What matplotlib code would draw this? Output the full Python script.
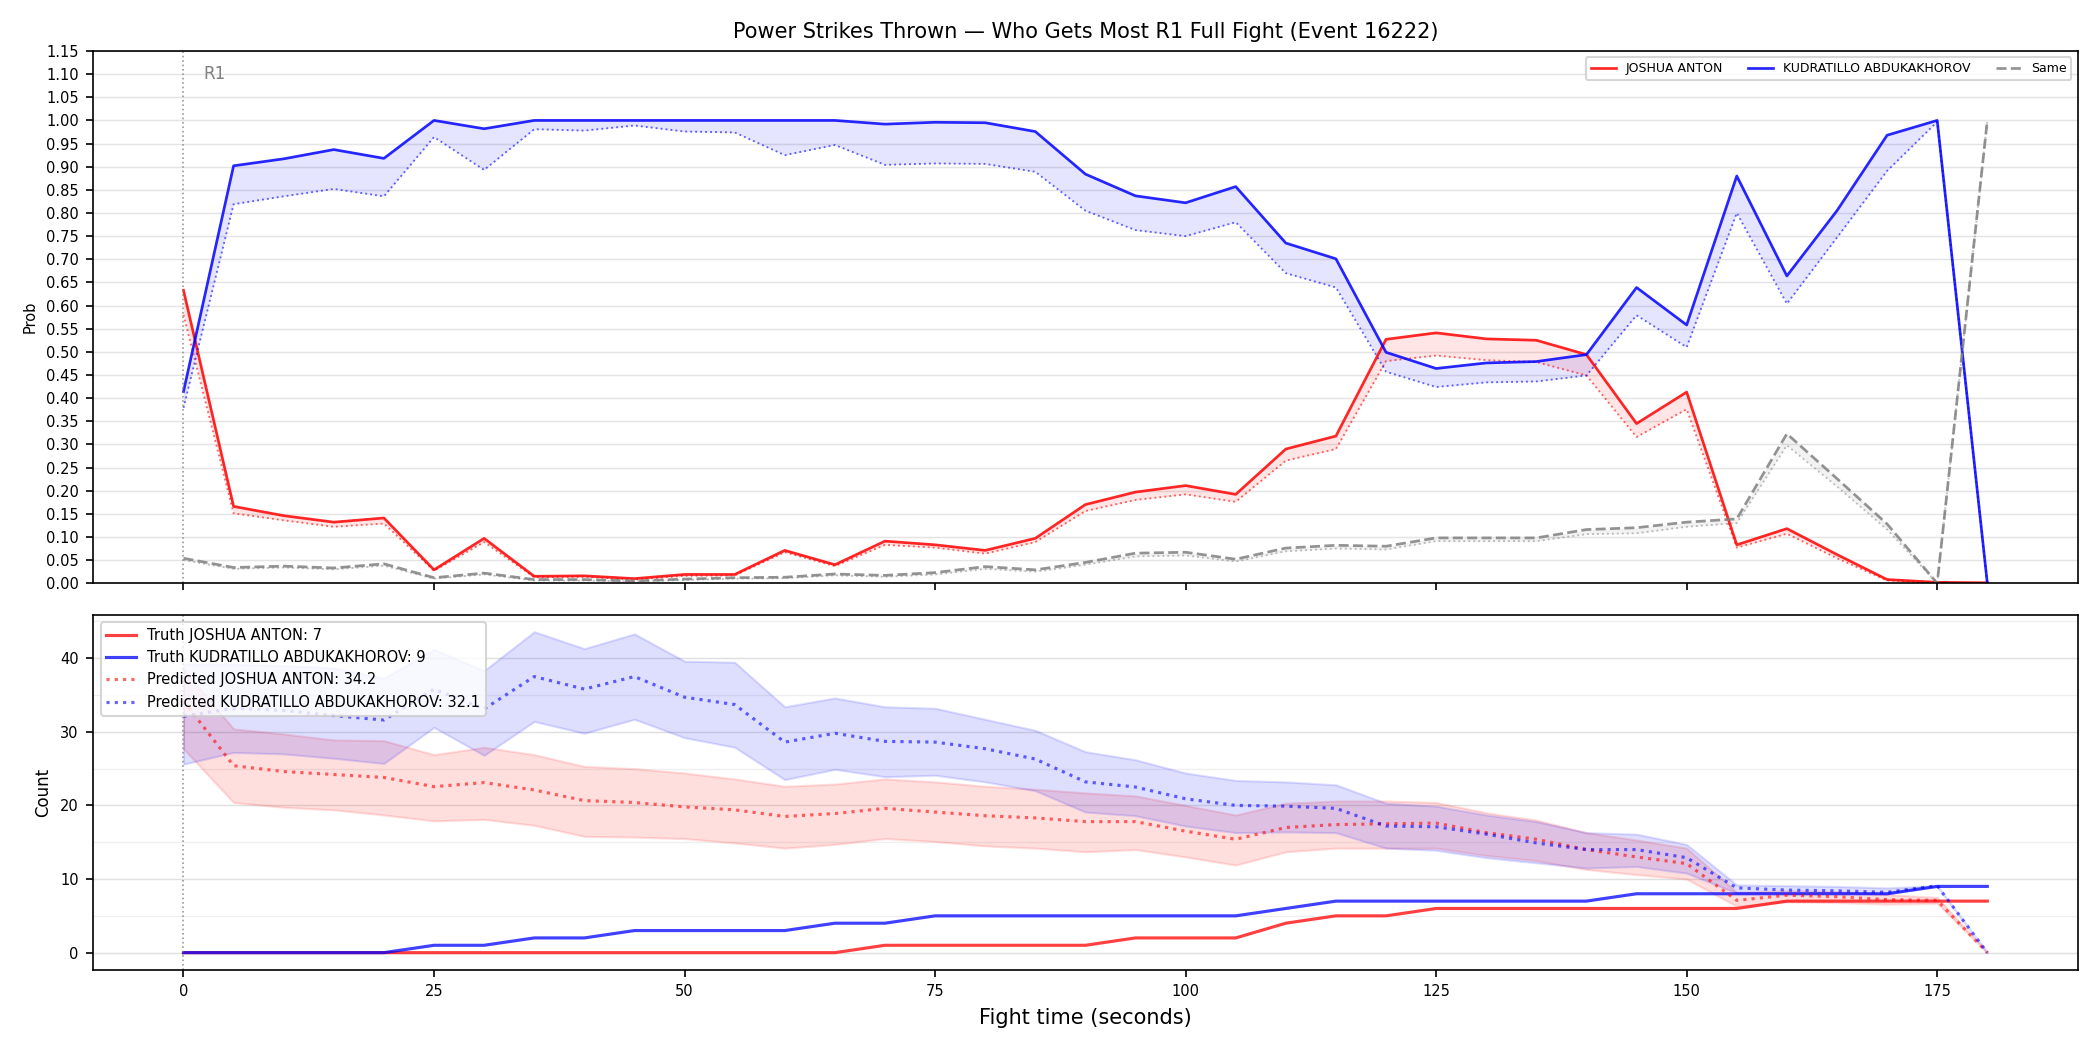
import matplotlib
matplotlib.use("Agg")
import matplotlib.pyplot as plt
from matplotlib.ticker import MultipleLocator

red_name = "JOSHUA ANTON"
blue_name = "KUDRATILLO ABDUKAKHOROV"

t = list(range(0, 181, 5))

# win probability (truth-conditioned solid, predicted dotted)
p_red = [0.633, 0.166, 0.146, 0.132, 0.141, 0.029, 0.097, 0.015, 0.016, 0.010, 0.019,
         0.019, 0.071, 0.040, 0.091, 0.083, 0.071, 0.097, 0.170, 0.197, 0.211, 0.192,
         0.290, 0.318, 0.527, 0.541, 0.528, 0.525, 0.494, 0.345, 0.413, 0.083, 0.118,
         0.062, 0.008, 0.002, 0.001]
p_red_pred = [0.580, 0.151, 0.136, 0.122, 0.129, 0.027, 0.089, 0.013, 0.014, 0.008, 0.016,
              0.017, 0.067, 0.037, 0.083, 0.077, 0.064, 0.089, 0.156, 0.180, 0.192, 0.176,
              0.265, 0.290, 0.480, 0.492, 0.482, 0.478, 0.449, 0.316, 0.376, 0.077, 0.107,
              0.054, 0.006, 0.001, 0.0]
p_blue = [0.414, 0.902, 0.917, 0.937, 0.918, 1.0, 0.982, 1.0, 1.0, 1.0, 1.0,
          1.0, 1.0, 1.0, 0.992, 0.996, 0.995, 0.976, 0.884, 0.837, 0.822, 0.857,
          0.735, 0.701, 0.499, 0.464, 0.476, 0.479, 0.494, 0.639, 0.558, 0.880, 0.664,
          0.805, 0.968, 1.0, 0.0]
p_blue_pred = [0.379, 0.819, 0.836, 0.852, 0.836, 0.964, 0.893, 0.981, 0.978, 0.989, 0.976,
               0.974, 0.925, 0.947, 0.904, 0.907, 0.906, 0.889, 0.805, 0.763, 0.750, 0.780,
               0.670, 0.639, 0.457, 0.424, 0.434, 0.436, 0.449, 0.579, 0.510, 0.800, 0.604,
               0.747, 0.891, 0.997, 0.0]
p_same = [0.054, 0.034, 0.037, 0.033, 0.042, 0.012, 0.022, 0.008, 0.008, 0.005, 0.009,
          0.012, 0.013, 0.020, 0.017, 0.023, 0.036, 0.029, 0.045, 0.065, 0.067, 0.052,
          0.076, 0.082, 0.080, 0.098, 0.098, 0.098, 0.116, 0.120, 0.132, 0.139, 0.323,
          0.226, 0.128, 0.0, 1.0]
p_same_pred = [0.050, 0.031, 0.034, 0.030, 0.038, 0.010, 0.019, 0.006, 0.006, 0.004, 0.007,
               0.010, 0.011, 0.017, 0.014, 0.019, 0.031, 0.025, 0.040, 0.058, 0.060, 0.047,
               0.069, 0.075, 0.073, 0.091, 0.091, 0.091, 0.106, 0.108, 0.122, 0.130, 0.298,
               0.209, 0.116, 0.0, 1.0]

# cumulative counts
truth_red = [0, 0, 0, 0, 0, 0, 0, 0, 0, 0, 0, 0, 0, 0, 1, 1, 1, 1, 1, 2, 2, 2, 4, 5, 5,
             6, 6, 6, 6, 6, 6, 6, 7, 7, 7, 7, 7]
truth_blue = [0, 0, 0, 0, 0, 1, 1, 2, 2, 3, 3, 3, 3, 4, 4, 5, 5, 5, 5, 5, 5, 5, 6, 7, 7,
              7, 7, 7, 7, 8, 8, 8, 8, 8, 8, 9, 9]
pred_red = [34.2, 25.4, 24.6, 24.2, 23.8, 22.55, 23.1, 22.1, 20.65, 20.4, 19.8,
            19.4, 18.5, 18.9, 19.6, 19.1, 18.6, 18.3, 17.8, 17.8, 16.5, 15.4, 17.0,
            17.4, 17.5, 17.6, 16.3, 15.4, 14.0, 13.0, 12.1, 7.1, 7.8, 7.6, 7.2, 7.1, 0.0]
pred_red_hi = [38.5, 30.4, 29.7, 28.9, 28.8, 26.9, 27.9, 26.9, 25.3, 25.0, 24.4,
               23.6, 22.6, 22.9, 23.6, 23.2, 22.6, 22.2, 21.7, 21.3, 20.0, 18.7, 20.3,
               20.6, 20.6, 20.4, 19.0, 18.0, 16.3, 15.3, 14.2, 8.2, 8.4, 8.3, 7.9, 7.5, 0.0]
pred_red_lo = [27.7, 20.4, 19.75, 19.4, 18.7, 17.9, 18.1, 17.3, 15.8, 15.7, 15.5,
               14.9, 14.2, 14.7, 15.5, 15.1, 14.5, 14.2, 13.7, 14.0, 13.0, 11.9, 13.7,
               14.2, 14.2, 14.2, 13.2, 12.5, 11.3, 10.6, 10.0, 6.3, 6.9, 6.8, 6.6, 6.7, 0.0]
pred_blue = [32.1, 33.2, 32.9, 32.2, 31.6, 35.8, 33.1, 37.5, 35.8, 37.5, 34.7,
             33.7, 28.6, 29.8, 28.7, 28.6, 27.7, 26.3, 23.2, 22.5, 20.9, 20.0, 19.9,
             19.6, 17.2, 17.1, 16.1, 14.9, 14.0, 14.0, 12.9, 8.8, 8.5, 8.4, 8.2, 9.1, 0.0]
pred_blue_hi = [39.2, 39.2, 39.0, 38.7, 37.3, 41.2, 38.3, 43.6, 41.3, 43.3, 39.6,
                39.45, 33.4, 34.6, 33.4, 33.2, 31.7, 30.2, 27.3, 26.2, 24.4, 23.4, 23.2,
                22.8, 20.3, 19.9, 18.7, 17.8, 16.3, 16.1, 14.7, 9.2, 9.1, 9.0, 8.8, 9.1, 0.0]
pred_blue_lo = [25.6, 27.2, 27.0, 26.4, 25.7, 30.6, 26.8, 31.4, 29.8, 31.7, 29.2,
                27.9, 23.5, 24.9, 23.9, 24.1, 23.2, 22.0, 19.1, 18.6, 17.2, 16.3, 16.4,
                16.3, 14.2, 13.9, 12.9, 12.2, 11.5, 11.7, 10.8, 8.1, 8.1, 8.1, 8.0, 9.0, 0.0]

fig, (ax1, ax2) = plt.subplots(2, 1, figsize=(14, 7), dpi=150, sharex=True,
                               gridspec_kw={"height_ratios": [3, 2]})

# --- top: probabilities
ax1.plot(t, p_red, color="red", lw=1.3, alpha=0.85, label=red_name)
ax1.plot(t, p_red_pred, color="red", lw=0.9, ls=":", alpha=0.6)
ax1.fill_between(t, p_red, p_red_pred, color="red", alpha=0.1, lw=0)
ax1.plot(t, p_blue, color="blue", lw=1.3, alpha=0.85, label=blue_name)
ax1.plot(t, p_blue_pred, color="blue", lw=0.9, ls=":", alpha=0.6)
ax1.fill_between(t, p_blue, p_blue_pred, color="blue", alpha=0.1, lw=0)
ax1.plot(t, p_same, color="gray", lw=1.3, ls="--", alpha=0.85, label="Same")
ax1.plot(t, p_same_pred, color="gray", lw=0.9, ls=":", alpha=0.5)
ax1.fill_between(t, p_same, p_same_pred, color="gray", alpha=0.1, lw=0)

ax1.axvline(0, color="gray", ls=":", lw=0.8, alpha=0.8)
ax1.text(2, 1.09, "R1", color="gray", fontsize=8)
ax1.set_ylim(0, 1.15)
ax1.yaxis.set_major_locator(MultipleLocator(0.05))
ax1.set_ylabel("Prob", fontsize=7)
ax1.tick_params(axis="y", labelsize=7)
ax1.grid(axis="y", color="#e4e4e4", lw=0.7)
ax1.set_axisbelow(True)
ax1.set_title("Power Strikes Thrown \u2014 Who Gets Most R1 Full Fight (Event 16222)",
              fontsize=10)
ax1.legend(loc="upper right", ncol=3, fontsize=6)

# --- bottom: counts
ax2.plot(t, truth_red, color="red", lw=1.5, alpha=0.75,
         label=f"Truth {red_name}: {truth_red[-2]}")
ax2.plot(t, truth_blue, color="blue", lw=1.5, alpha=0.75,
         label=f"Truth {blue_name}: {truth_blue[-2]}")
ax2.plot(t, pred_red, color="red", lw=1.5, ls=":", alpha=0.6,
         label=f"Predicted {red_name}: {pred_red[0]}")
ax2.fill_between(t, pred_red_lo, pred_red_hi, color="red", alpha=0.13)
ax2.plot(t, pred_blue, color="blue", lw=1.5, ls=":", alpha=0.6,
         label=f"Predicted {blue_name}: {pred_blue[0]}")
ax2.fill_between(t, pred_blue_lo, pred_blue_hi, color="blue", alpha=0.13)

ax2.axvline(0, color="gray", ls=":", lw=0.8, alpha=0.8)
ax2.set_ylim(-2.3, 45.9)
ax2.yaxis.set_major_locator(MultipleLocator(10))
ax2.yaxis.set_minor_locator(MultipleLocator(5))
ax2.tick_params(axis="y", which="minor", length=0)
ax2.tick_params(labelsize=7)
ax2.grid(axis="y", which="major", color="#e0e0e0", lw=0.7)
ax2.grid(axis="y", which="minor", color="#efefef", lw=0.6)
ax2.set_axisbelow(True)
ax2.set_ylabel("Count", fontsize=8)
ax2.set_xlabel("Fight time (seconds)", fontsize=10)
ax2.xaxis.set_major_locator(MultipleLocator(25))
ax2.legend(loc="upper left", fontsize=7)

fig.tight_layout()
fig.savefig("out.png", dpi=150)
